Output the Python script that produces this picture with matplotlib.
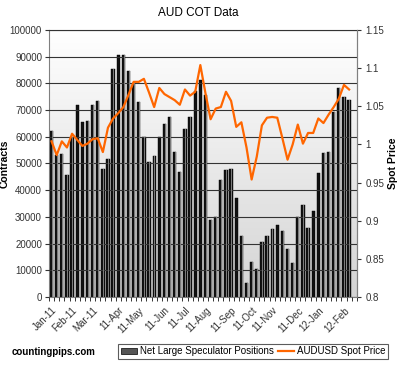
# AUD COT: posiciones netas de grandes especuladores vs. precio spot AUDUSD
import matplotlib.pyplot as plt
import matplotlib.colors as mcolors
from matplotlib.patches import Patch
from matplotlib.lines import Line2D
import numpy as np

plt.rcParams['font.family'] = ['Liberation Sans', 'DejaVu Sans']

# datos semanales (ene-2011 a feb-2012)
posiciones = [62300, 53000, 53400, 45600, 60000, 71900, 65500, 66000, 71900, 73500,
              48100, 51600, 85300, 90700, 90500, 84800, 80300, 73100, 60000, 50600,
              52900, 59800, 64800, 67500, 54400, 46900, 63100, 67300, 77300, 81300,
              75600, 29000, 30000, 43800, 47500, 48100, 36900, 23000, 5300, 13000,
              10600, 20500, 23000, 25600, 27000, 24600, 18100, 12600, 29800, 34500,
              25700, 32300, 46600, 53800, 54400, 69400, 78200, 74800, 73800]
spot = [1.004, 0.986, 1.004, 0.996, 1.014, 1.006, 0.998, 1.001, 1.007, 1.008,
        0.990, 1.022, 1.034, 1.041, 1.049, 1.065, 1.082, 1.082, 1.086, 1.068,
        1.049, 1.074, 1.066, 1.062, 1.058, 1.052, 1.072, 1.064, 1.069, 1.104,
        1.067, 1.033, 1.047, 1.049, 1.069, 1.057, 1.023, 1.029, 0.996, 0.954,
        0.984, 1.025, 1.035, 1.036, 1.035, 1.008, 0.980, 1.000, 1.026, 1.001,
        1.015, 1.015, 1.034, 1.028, 1.039, 1.049, 1.060, 1.078, 1.072]
meses = ['Jan-11', 'Feb-11', 'Mar-11', '11-Apr', '11-May', '11-Jun', '11-Jul',
         '11-Aug', '11-Sep', '11-Oct', '11-Nov', '11-Dec', '12-Jan', '12-Feb']
semana_mes = [0, 4, 8, 13, 17, 22, 26, 30, 35, 39, 43, 48, 52, 57]

x = np.arange(len(posiciones))

fig = plt.figure(figsize=(4, 3.68), dpi=100)
ax = fig.add_axes([0.1225, 0.193, 0.7695, 0.7255])
ax2 = ax.twinx()

# fondo degradado (blanco arriba, gris abajo)
grad = np.linspace(1, 0, 256).reshape(-1, 1)
cmap_fondo = mcolors.LinearSegmentedColormap.from_list('fondo', ['#d4d4d4', '#ffffff'])
ax.imshow(grad, extent=[-0.5, 59.5, 0, 100000], origin='upper', aspect='auto',
          cmap=cmap_fondo, vmin=0, vmax=1, zorder=0)

# barras
ax.bar(x, posiciones, width=0.64, color='#111111', edgecolor='black', linewidth=0.3, zorder=2)
ax.bar(x + 0.14, posiciones, width=0.16, color='#7a7a7a', linewidth=0, zorder=3)

ax.set_xlim(-0.5, 59.5)
ax.set_ylim(0, 100000)
ax.set_yticks(np.arange(0, 100001, 10000))
ax.yaxis.grid(True, color='#333333', linewidth=0.8, zorder=1)
ax.set_axisbelow(False)
ax.tick_params(axis='y', labelsize=7, colors='#333333', length=3, width=0.8, pad=2)

ax.set_xticks(semana_mes)
ax.set_xticklabels(meses, rotation=45, ha='right', rotation_mode='anchor', fontsize=7, color='#333333')
ax.set_xticks(np.arange(-0.5, 60, 1), minor=True)
ax.tick_params(axis='x', which='major', length=0, pad=6)
ax.tick_params(axis='x', which='minor', length=3, width=0.7, color='#333333')

for s in ['left', 'right', 'bottom']:
    ax.spines[s].set_color('#808080')
ax.spines['top'].set_color('#333333')
ax.set_ylabel('Contracts', fontsize=7.5, fontweight='bold')
ax.yaxis.set_label_coords(-0.128, 0.5)

# linea spot
ax2.plot(x, spot, color='#ff6600', linewidth=1.6, zorder=4)
ax2.set_ylim(0.8, 1.15)
ax2.set_yticks([0.8, 0.85, 0.9, 0.95, 1.0, 1.05, 1.1, 1.15])
ax2.set_yticklabels(['0.8', '0.85', '0.9', '0.95', '1', '1.05', '1.1', '1.15'])
ax2.tick_params(axis='y', labelsize=7, colors='#333333', length=3, width=0.8, pad=3)
ax2.spines['right'].set_color('#808080')
ax2.spines['left'].set_visible(False)
ax2.spines['top'].set_visible(False)
ax2.spines['bottom'].set_visible(False)
ax2.set_ylabel('Spot Price', fontsize=7.5, fontweight='bold')
ax2.yaxis.set_label_coords(1.1, 0.5)

fig.text(0.495, 0.965, 'AUD COT Data', ha='center', va='center', fontsize=8.5)
fig.text(0.03, 0.043, 'countingpips.com', ha='left', va='center', fontsize=7, fontweight='bold')

handles = [Patch(facecolor='#555555', edgecolor='black', linewidth=0.5),
           Line2D([], [], color='#ff6600', linewidth=1.6)]
leg = fig.legend(handles, ['Net Large Speculator Positions', 'AUDUSD Spot Price'],
                 loc='center', bbox_to_anchor=(0.633, 0.045), ncol=2, fontsize=7,
                 frameon=True, fancybox=False, edgecolor='#333333', handlelength=1.6,
                 handletextpad=0.3, columnspacing=0.5, borderpad=0.3)
leg.get_frame().set_linewidth(0.8)

plt.savefig('out.png', dpi=100)
